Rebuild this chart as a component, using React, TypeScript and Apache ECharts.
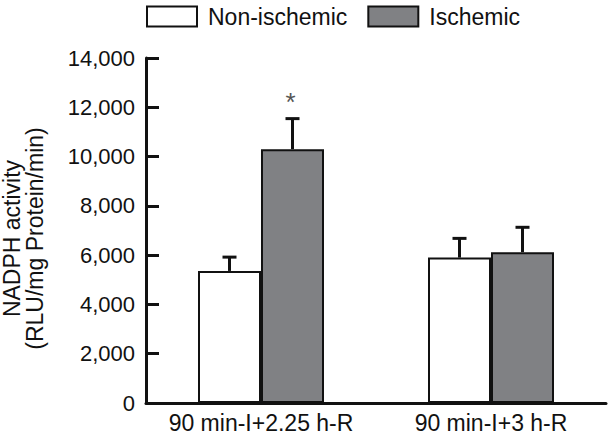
import React, { useEffect, useRef } from "react";
import * as echarts from "echarts";

const categories = ["90 min-I+2.25 h-R", "90 min-I+3 h-R"];
const nonIschemic = [5360, 5900];
const nonIschemicErr = [560, 780];
const ischemic = [10300, 6120];
const ischemicErr = [1240, 1010];
const sigNon = ["", ""];
const sigIsch = ["*", ""];
const yTicks = { min: 0, max: 14000, interval: 2000 };

const FONT = "Liberation Sans, Arial, sans-serif";

export default function App() {
  const ref = useRef<HTMLDivElement>(null);
  useEffect(() => {
    document.body.style.margin = "0";
    if (!ref.current) return;
    const chart = echarts.init(ref.current, undefined, { renderer: "svg" });
    const barW = 63;
    const makeErr = (vals: number[], errs: number[], sigs: string[], offset: number) => ({
      type: "custom",
      z: 5,
      silent: true,
      data: vals.map((v, i) => [i, v, errs[i]]),
      renderItem: (params: any, api: any) => {
        const i = api.value(0);
        const v = api.value(1);
        const e = api.value(2);
        const base = api.coord([i, v]);
        const top = api.coord([i, v + e]);
        const x = base[0] + offset;
        const children: any[] = [
          { type: "line", shape: { x1: x, y1: base[1], x2: x, y2: top[1] }, style: { stroke: "#111", lineWidth: 3 } },
          { type: "line", shape: { x1: x - 7, y1: top[1], x2: x + 7, y2: top[1] }, style: { stroke: "#111", lineWidth: 3 } },
        ];
        const s = sigs[params.dataIndex];
        if (s) {
          children.push({
            type: "text",
            style: { text: s, x: x - 2, y: top[1] - 17, align: "center", verticalAlign: "middle", fontSize: 26, fill: "#555", fontFamily: FONT },
          });
        }
        return { type: "group", children };
      },
    });
    chart.setOption({
      animation: false,
      backgroundColor: "#fff",
      textStyle: { fontFamily: FONT },
      legend: {
        data: ["Non-ischemic", "Ischemic"],
        left: 141,
        top: 0,
        itemWidth: 50,
        itemHeight: 20,
        itemGap: 20,
        icon: "rect",
        textStyle: { fontSize: 23, color: "#111", fontFamily: FONT, padding: [0, 0, 0, 6] },
      },
      grid: { left: 146, right: 3, top: 58, bottom: 33, containLabel: false, outerBoundsMode: "none" },
      xAxis: {
        type: "category",
        data: categories,
        axisLine: { lineStyle: { color: "#111", width: 3 } },
        axisTick: { inside: true, length: 11, lineStyle: { color: "#111", width: 3 } },
        axisLabel: { fontSize: 23, color: "#111", margin: 8, fontFamily: FONT, interval: 0 },
      },
      yAxis: {
        type: "value",
        min: yTicks.min,
        max: yTicks.max,
        interval: yTicks.interval,
        name: "NADPH activity\n(RLU/mg Protein/min)",
        nameLocation: "middle",
        nameRotate: 90,
        nameGap: 100,
        nameTextStyle: { fontSize: 23, color: "#111", lineHeight: 23, fontFamily: FONT, padding: [0, 16, 0, 0] },
        axisLine: { show: true, lineStyle: { color: "#111", width: 3 } },
        axisTick: { show: true, inside: true, length: 13, lineStyle: { color: "#111", width: 3 } },
        axisLabel: {
          fontSize: 22,
          color: "#111",
          margin: 11,
          fontFamily: FONT,
          formatter: (v: number) => v.toLocaleString("en-US"),
        },
        splitLine: { show: false },
      },
      series: [
        {
          name: "Non-ischemic",
          type: "bar",
          data: nonIschemic,
          barWidth: barW,
          barGap: "0%",
          itemStyle: { color: "#ffffff", borderColor: "#111", borderWidth: 2 },
        },
        {
          name: "Ischemic",
          type: "bar",
          data: ischemic,
          barWidth: barW,
          barGap: "0%",
          itemStyle: { color: "#808184", borderColor: "#111", borderWidth: 2 },
        },
        makeErr(nonIschemic, nonIschemicErr, sigNon, -barW / 2),
        makeErr(ischemic, ischemicErr, sigIsch, barW / 2),
      ],
    });
    return () => chart.dispose();
  }, []);
  return <div ref={ref} style={{ width: 609, height: 436 }} />;
}
